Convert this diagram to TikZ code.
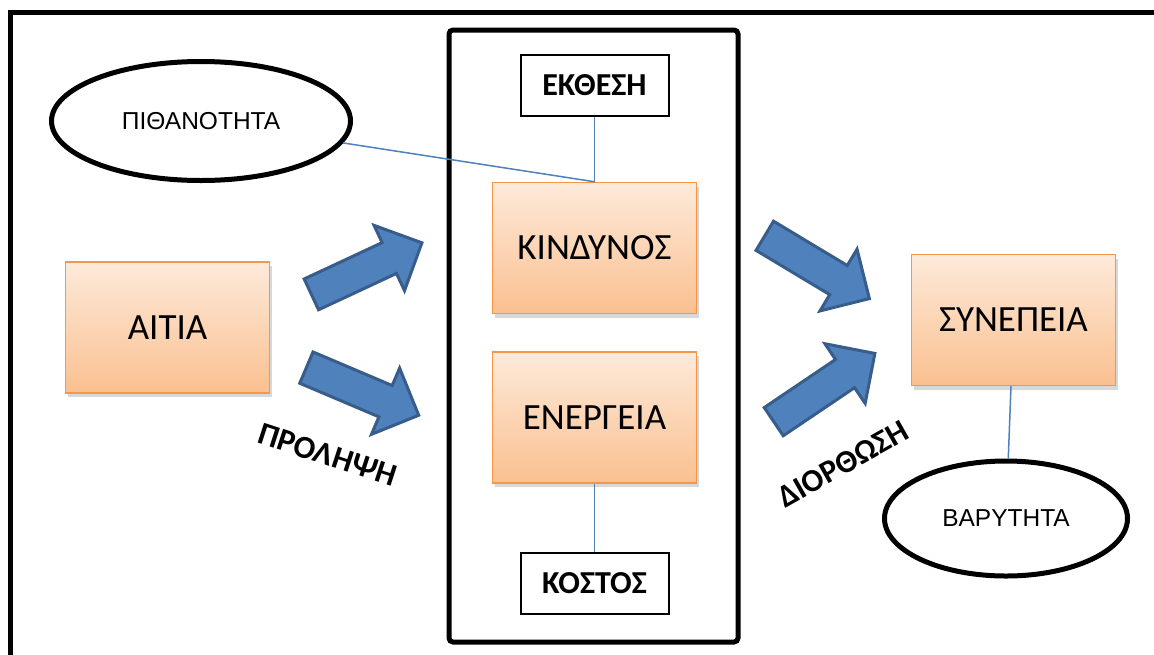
\documentclass[tikz,border=0pt]{standalone}
\usepackage{fontspec}
\setmainfont{Carlito}
\newfontfamily\arialfont{Liberation Sans}
\usetikzlibrary{positioning,shapes.geometric,shapes.arrows,shadows}
\definecolor{peachtop}{HTML}{FDEADA}
\definecolor{peachbot}{HTML}{FAC090}
\definecolor{peachline}{HTML}{F79646}
\definecolor{arrowblue}{HTML}{4F81BD}
\definecolor{arrowline}{HTML}{385D8A}

\begin{document}
\begin{tikzpicture}[
  x=1pt, y=-1pt,
  box/.style={
    rectangle,
    minimum width=204pt,
    minimum height=131pt,
    draw=peachline,
    line width=1.5pt,
    top color=peachtop,
    bottom color=peachbot,
    drop shadow={shadow xshift=2pt, shadow yshift=-4pt, opacity=.25, fill=black!60},
    font=\fontsize{37}{44}\selectfont,
  },
  tag/.style={
    rectangle,
    draw=black,
    line width=2pt,
    fill=white,
    minimum width=148pt,
    minimum height=61pt,
    font=\fontsize{32}{38}\selectfont\bfseries,
  },
  oval/.style={
    ellipse,
    draw=black,
    line width=5pt,
    fill=white,
    inner sep=0pt,
    font=\arialfont\fontsize{24.5}{29}\selectfont,
  },
  bigarrow/.style={
    single arrow,
    draw=arrowline,
    fill=arrowblue,
    line width=3pt,
    inner xsep=0pt,
    inner ysep=15.5pt,
    minimum height=122pt,
    minimum width=0pt,
    single arrow head extend=19pt,
    anchor=tail,
    rotate=#1,
  },
  link/.style={
    draw=arrowblue,
    line width=1.5pt,
  },
  phase/.style={
    font=\fontsize{32}{38}\selectfont\bfseries,
  },
]

\useasboundingbox (0,0) rectangle (1154,654);
\clip (0,0) rectangle (1154,654);
\fill[white] (0,0) rectangle (1154,654);

% Frames
\draw[line width=5pt] (10,12) rectangle (1170,670);
\draw[line width=5pt, rounded corners=4pt] (449,30) rectangle (738,642);

% Nodes
\node[box] (cause) at (167.5,327.5) {ΑΙΤΙΑ};

\node[box] (risk) at (594.5,248) {ΚΙΝΔΥΝΟΣ};

\node[box, below=37pt of risk] (energy) {ΕΝΕΡΓΕΙΑ};

\node[box] (effect) at (1013.5,320) {ΣΥΝΕΠΕΙΑ};

\node[tag, above=65pt of risk] (exposure) {ΕΚΘΕΣΗ};

\node[tag, below=68pt of energy] (cost) {ΚΟΣΤΟΣ};

\node[oval, minimum width=299pt, minimum height=119pt] (chance) at (201,121) {ΠΙΘΑΝΟΤΗΤΑ};

\node[oval, minimum width=243pt, minimum height=115pt] (severity) at (1006,518.5) {ΒΑΡΥΤΗΤΑ};

% Links
\draw[link] (chance)   -- (risk.north);
\draw[link] (exposure) -- (risk.north);
\draw[link] (energy)   -- (cost);
\draw[link] (effect)   -- (severity);

% Block arrows
\node[bigarrow=25]  (in1)  at (310,295)     {};
\node[bigarrow=-23] (in2)  at (305,367)     {};
\node[bigarrow=-31] (out1) at (763.5,235)   {};
\node[bigarrow=34]  (out2) at (772.5,422.5) {};

% Labels
\node[phase, rotate=-18]  (prevent) at (328,455) {ΠΡΟΛΗΨΗ};
\node[phase, rotate=29.5] (correct) at (843,464) {ΔΙΟΡΘΩΣΗ};

\end{tikzpicture}
\end{document}
